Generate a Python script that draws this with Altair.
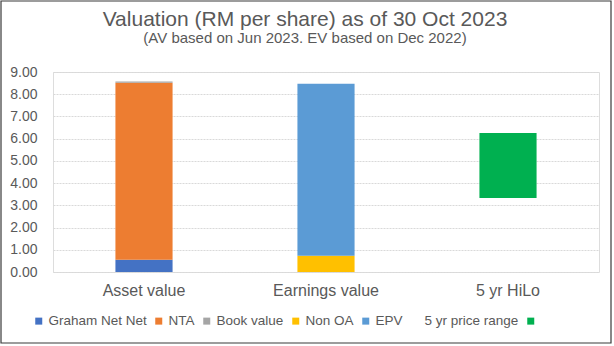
import altair as alt
import pandas as pd

categories = ["Asset value", "Asset value", "Asset value",
              "Earnings value", "Earnings value",
              "5 yr HiLo", "5 yr HiLo"]
series = ["Graham Net Net", "NTA", "Book value", "Non OA", "EPV",
          "5 yr price range", " "]
values = [0.55, 7.97, 0.05, 0.73, 7.74, 3.33, 2.93]
order = [1, 2, 3, 1, 2, 1, 2]

cat_order = ["Asset value", "Earnings value", "5 yr HiLo"]
series_order = ["Graham Net Net", "NTA", "Book value", "Non OA", "EPV",
                "5 yr price range", " "]
colors = ["#4472C4", "#ED7D31", "#A5A5A5", "#FFC000", "#5B9BD5",
          "transparent", "#00B050"]
y_ticks = [0, 1, 2, 3, 4, 5, 6, 7, 8, 9]

df = pd.DataFrame({"category": categories, "series": series,
                   "value": values, "ord": order})

FONT = "Liberation Sans"
GREY = "#595959"

bars = alt.Chart(df).mark_bar().encode(
    x=alt.X("category:N", sort=cat_order,
            scale=alt.Scale(paddingInner=0.686, paddingOuter=0.343),
            axis=alt.Axis(title=None, labelAngle=0, domain=False, ticks=False,
                          labelFontSize=16, labelColor=GREY, labelFont=FONT,
                          labelPadding=10)),
    y=alt.Y("value:Q", stack="zero",
            scale=alt.Scale(domain=[0, 9], nice=False),
            axis=alt.Axis(title=None, values=y_ticks, format=".2f",
                          domain=False, ticks=False, grid=True,
                          gridColor="#D9D9D9", gridDash=[2, 1],
                          labelFontSize=14, labelColor=GREY, labelFont=FONT,
                          labelPadding=16)),
    color=alt.Color("series:N",
                    scale=alt.Scale(domain=series_order, range=colors),
                    legend=alt.Legend(title=None, orient="none",
                                      legendX=-21, legendY=242,
                                      direction="horizontal",
                                      symbolType="square", symbolSize=49,
                                      symbolStrokeWidth=0,
                                      labelFontSize=13.5, labelColor=GREY,
                                      labelFont=FONT, columnPadding=5,
                                      labelOffset=3, labelLimit=300)),
    order=alt.Order("ord:Q"),
)

border = alt.Chart(alt.Data(values=[{}])).mark_rect(
    fill=None, stroke="#3A3A3A", strokeWidth=1.2
).encode(
    x=alt.value(-52), x2=alt.value(558),
    y=alt.value(-71), y2=alt.value(271),
)

chart = alt.layer(bars, border).properties(
    width=546, height=200,
    autosize=alt.AutoSizeParams(type="none"),
    padding={"left": 53, "top": 72, "right": 15, "bottom": 74},
    title=alt.TitleParams(
        text="Valuation (RM per share) as of 30 Oct 2023",
        subtitle="(AV based on Jun 2023. EV based on Dec 2022)",
        fontSize=21, subtitleFontSize=15, color=GREY, subtitleColor=GREY,
        font=FONT, subtitleFont=FONT, fontWeight="normal",
        anchor="middle", dx=-21, offset=-46, subtitlePadding=1,
    ),
).configure_view(stroke=None).configure(background="white")

chart.save("out.html", embed_options={"renderer": "svg", "actions": False})
